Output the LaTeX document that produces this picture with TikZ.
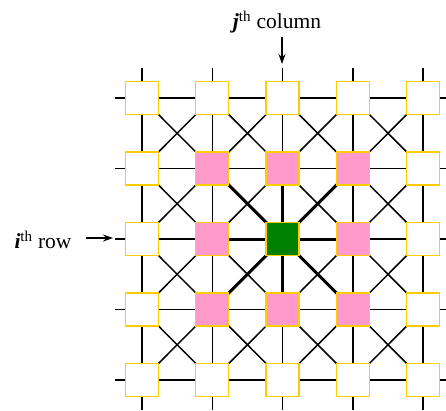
\documentclass[tikz,border=0pt]{standalone}
\usepackage{fontspec}
\setmainfont{Liberation Serif}
\usetikzlibrary{arrows.meta,calc}
\definecolor{boxedge}{HTML}{FFCC00}
\definecolor{pinkfill}{HTML}{FF99CC}
\definecolor{greenfill}{HTML}{008000}
\pgfdeclarelayer{background}
\pgfsetlayers{background,main}
\begin{document}
\begin{tikzpicture}[x=1pt,y=-1pt,
  cell/.style={rectangle,draw=boxedge,line width=1.3pt,fill=white,minimum size=33pt,inner sep=0pt},
  pinkcell/.style={cell,fill=pinkfill},
  greencell/.style={cell,fill=greenfill},
  gridline/.style={line width=1.5pt,black},
  thickline/.style={line width=3pt,black},
  pointer/.style={line width=1.8pt,-{Stealth[length=10pt,width=7pt]}},
  lab/.style={font=\fontsize{21.5}{25}\selectfont,inner sep=0pt}]
\useasboundingbox (0,0) rectangle (446,410);
\clip (0,0) rectangle (446,410);
% nodes
\foreach \i in {1,...,5}{
  \foreach \j in {1,...,5}{
    \node[cell] (n\i\j) at ({142+70.3*(\j-1)},{98+70.5*(\i-1)}) {};
  }
}
\foreach \i/\j in {2/2,2/3,2/4,3/2,3/4,4/2,4/3,4/4}{
  \node[pinkcell] at (n\i\j) {};
}
\node[greencell] (center) at (n33) {};
% stub end coordinates
\foreach \k in {1,...,5}{
  \coordinate (top\k) at ($(n1\k.center)+(0,-30)$);
  \coordinate (bot\k) at ($(n5\k.center)+(0,30)$);
  \coordinate (lft\k) at ($(n\k1.center)+(-27,0)$);
  \coordinate (rgt\k) at ($(n\k5.center)+(27,0)$);
}
\begin{pgfonlayer}{background}
  \foreach \k in {1,...,5}{
    \draw[gridline] (top\k) -- (n1\k.center) -- (n2\k.center) -- (n3\k.center) -- (n4\k.center) -- (n5\k.center) -- (bot\k);
    \draw[gridline] (lft\k) -- (n\k1.center) -- (n\k2.center) -- (n\k3.center) -- (n\k4.center) -- (n\k5.center) -- (rgt\k);
  }
  \foreach \i in {1,...,4}{
    \foreach \j in {1,...,4}{
      \pgfmathtruncatemacro{\ii}{\i+1}
      \pgfmathtruncatemacro{\jj}{\j+1}
      \draw[gridline] (n\i\j.center) -- (n\ii\jj.center);
      \draw[gridline] (n\i\jj.center) -- (n\ii\j.center);
    }
  }
  \foreach \i/\j in {2/2,2/3,2/4,3/2,3/4,4/2,4/3,4/4}{
    \draw[thickline] (center.center) -- (n\i\j.center);
  }
\end{pgfonlayer}
% labels
\node[lab] (jlab) at (277,22) {\textbf{\textit{j}}\textsuperscript{th} column};
\coordinate (jtail) at (282,37);
\coordinate (jtip) at (282,64);
\draw[pointer] (jtail) -- (jtip);
\node[lab] (ilab) at (43,240) {\textbf{\textit{i}}\textsuperscript{th} row};
\coordinate (itail) at (86,238);
\coordinate (itip) at (113,238);
\draw[pointer] (itail) -- (itip);
\end{tikzpicture}
\end{document}
